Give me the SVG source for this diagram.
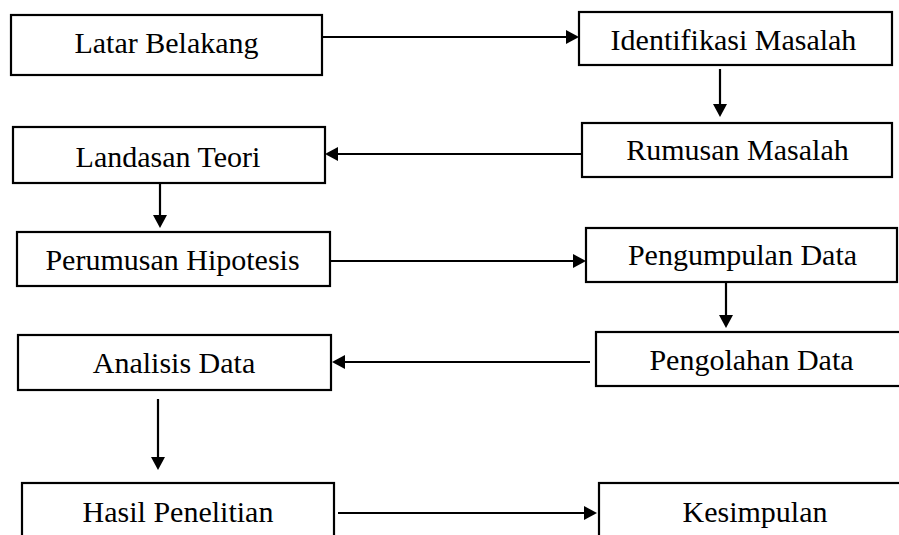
<svg xmlns="http://www.w3.org/2000/svg" width="899" height="535" viewBox="0 0 899 535">
  <style>
    .box { fill: #ffffff; stroke: #000000; stroke-width: 2.2; }
    .lbl { font-family: "Liberation Serif", "Times New Roman", serif; font-size: 30px; fill: #000000; text-anchor: middle; }
    .conn { stroke: #000000; stroke-width: 2.2; fill: none; marker-end: url(#arrow); }
  </style>
  <defs>
    <marker id="arrow" markerUnits="userSpaceOnUse" markerWidth="14" markerHeight="14" refX="3" refY="7" orient="auto">
      <path d="M0,0 L13,7 L0,14 z" fill="#000000"/>
    </marker>
  </defs>
  <rect x="0" y="0" width="899" height="535" fill="#ffffff"/>

  <g id="node-latar-belakang">
    <rect class="box" x="11" y="15" width="311" height="60"/>
    <text class="lbl" x="166.5" y="53">Latar Belakang</text>
  </g>
  <g id="node-identifikasi-masalah">
    <rect class="box" x="579" y="12" width="313" height="53"/>
    <text class="lbl" x="733.5" y="50">Identifikasi Masalah</text>
  </g>
  <g id="node-rumusan-masalah">
    <rect class="box" x="582" y="123" width="310" height="54"/>
    <text class="lbl" x="737.5" y="160">Rumusan Masalah</text>
  </g>
  <g id="node-landasan-teori">
    <rect class="box" x="13" y="127" width="312" height="56"/>
    <text class="lbl" x="168" y="167">Landasan Teori</text>
  </g>
  <g id="node-perumusan-hipotesis">
    <rect class="box" x="17" y="232" width="313" height="54"/>
    <text class="lbl" x="172.5" y="270">Perumusan Hipotesis</text>
  </g>
  <g id="node-pengumpulan-data">
    <rect class="box" x="586" y="228" width="311" height="54"/>
    <text class="lbl" x="742.5" y="265">Pengumpulan Data</text>
  </g>
  <g id="node-pengolahan-data">
    <rect class="box" x="596" y="332" width="312" height="54"/>
    <text class="lbl" x="751.5" y="370">Pengolahan Data</text>
  </g>
  <g id="node-analisis-data">
    <rect class="box" x="18" y="335" width="313" height="55"/>
    <text class="lbl" x="174" y="373">Analisis Data</text>
  </g>
  <g id="node-hasil-penelitian">
    <rect class="box" x="22" y="483" width="312" height="70"/>
    <text class="lbl" x="178" y="522">Hasil Penelitian</text>
  </g>
  <g id="node-kesimpulan">
    <rect class="box" x="599" y="483" width="312" height="70"/>
    <text class="lbl" x="755" y="522">Kesimpulan</text>
  </g>

  <g id="connectors">
    <line class="conn" x1="322" y1="37" x2="569" y2="37"/>
    <line class="conn" x1="720" y1="69" x2="720" y2="107"/>
    <line class="conn" x1="582" y1="154" x2="335" y2="154"/>
    <line class="conn" x1="160" y1="183" x2="160" y2="218"/>
    <line class="conn" x1="330" y1="261" x2="576" y2="261"/>
    <line class="conn" x1="726" y1="282" x2="726" y2="318"/>
    <line class="conn" x1="590" y1="362" x2="342" y2="362"/>
    <line class="conn" x1="158" y1="399" x2="158" y2="460"/>
    <line class="conn" x1="338" y1="513" x2="587" y2="513"/>
  </g>
</svg>
